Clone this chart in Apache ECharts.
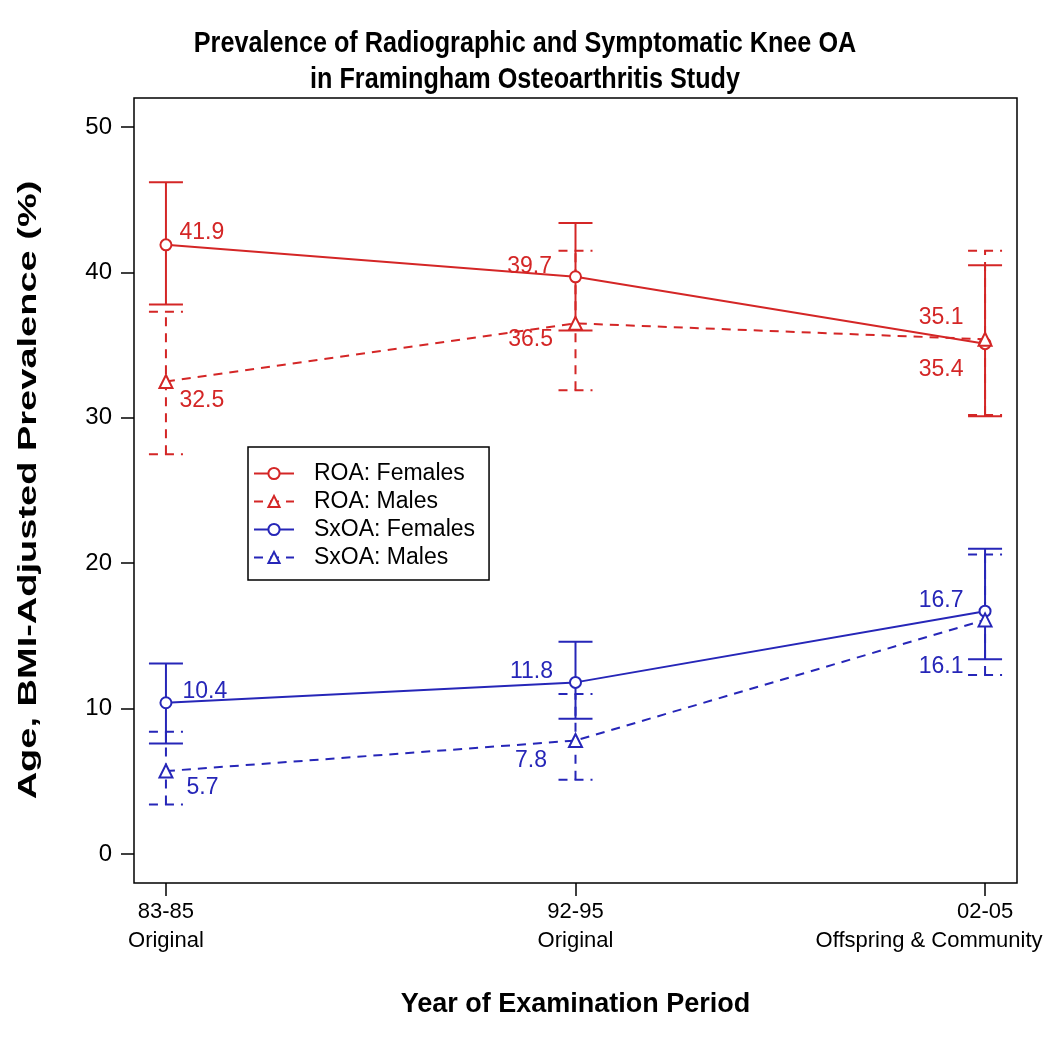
<!DOCTYPE html>
<html>
<head>
<meta charset="utf-8">
<script src="https://cdn.jsdelivr.net/npm/echarts@6/dist/echarts.min.js"></script>
<style>
  html, body { margin: 0; padding: 0; background: #fff; }
  #main { width: 1050px; height: 1050px; }
</style>
</head>
<body>
<div id="main"></div>
<script>
var chartDom = document.getElementById('main');
var myChart = echarts.init(chartDom);
var option;

// x positions 0,1,2 = exam periods
var periodYears = ['83-85', '92-95', '02-05'];
var periodCohorts = ['Original', 'Original', 'Offspring & Community'];
var yTicks = [0, 10, 20, 30, 40, 50];

var roaF = [41.9, 39.7, 35.1];
var roaFLo = [37.8, 36.0, 30.1];
var roaFHi = [46.2, 43.4, 40.5];

var roaM = [32.5, 36.5, 35.4];
var roaMLo = [27.5, 31.9, 30.2];
var roaMHi = [37.3, 41.5, 41.5];

var sxF = [10.4, 11.8, 16.7];
var sxFLo = [7.6, 9.3, 13.4];
var sxFHi = [13.1, 14.6, 21.0];

var sxM = [5.7, 7.8, 16.1];
var sxMLo = [3.4, 5.1, 12.3];
var sxMHi = [8.4, 11.0, 20.6];

var RED = '#d42626';
var BLUE = '#2626b8';
var FONT = 'Liberation Sans';

// label placement per point (side, dx, dy)
var labelPos = {
  roaF: [['right', 2, -12], ['left', -12, -10], ['left', -10, -26]],
  roaM: [['right', 1, 19], ['left', -10, 16], ['left', -9, 30]],
  sxF: [['right', 5, -11], ['left', -11, -11], ['left', -10, -11]],
  sxM: [['right', 8, 17], ['left', -16, 20], ['left', -9, 47]]
};

function pts(vals, key) {
  return vals.map(function (v, i) {
    var p = labelPos[key][i];
    return {
      value: [i, v],
      label: { position: p[0], offset: [p[1], p[2]] }
    };
  });
}

function lineSeries(name, vals, key, color, dashed, symbol) {
  return {
    name: name,
    type: 'line',
    data: pts(vals, key),
    symbol: symbol,
    symbolSize: symbol === 'emptyCircle' ? 11 : 13,
    color: color,
    itemStyle: { color: color, borderWidth: 1.5 },
    lineStyle: { color: color, width: 2, type: dashed ? [9, 7] : 'solid' },
    label: {
      show: true,
      color: color,
      fontFamily: FONT,
      fontSize: 23,
      formatter: function (p) { return p.value[1].toFixed(1); }
    },
    emphasis: { disabled: true },
    z: 3
  };
}

function errSeries(lo, hi, color, dashed) {
  var data = lo.map(function (l, i) { return [i, l, hi[i]]; });
  return {
    type: 'custom',
    data: data,
    silent: true,
    z: 2,
    renderItem: function (params, api) {
      var x = api.value(0);
      var a = api.coord([x, api.value(1)]);
      var b = api.coord([x, api.value(2)]);
      var w = 17;
      var st = { stroke: color, lineWidth: 2, lineDash: dashed ? [9, 7] : null };
      return {
        type: 'group',
        children: [
          { type: 'line', shape: { x1: a[0], y1: a[1], x2: b[0], y2: b[1] }, style: st },
          { type: 'line', shape: { x1: a[0] - w, y1: a[1], x2: a[0] + w, y2: a[1] }, style: st },
          { type: 'line', shape: { x1: b[0] - w, y1: b[1], x2: b[0] + w, y2: b[1] }, style: st }
        ]
      };
    }
  };
}

option = {
  backgroundColor: '#fff',
  animation: false,
  graphic: [{
    // main title, narrow bold like the original
    type: 'text',
    x: 525,
    y: 62,
    scaleX: 0.84,
    style: {
      text: 'Prevalence of Radiographic and Symptomatic Knee OA\nin Framingham Osteoarthritis Study',
      fontFamily: FONT,
      fontWeight: 'bold',
      fontSize: 30,
      lineHeight: 36,
      fill: '#000',
      textAlign: 'center',
      textVerticalAlign: 'middle'
    }
  }, {
    type: 'text',
    x: 29,
    y: 490,
    rotation: Math.PI / 2,
    scaleX: 1.52,
    style: {
      text: 'Age, BMI-Adjusted Prevalence (%)',
      fontFamily: FONT,
      fontWeight: 'bold',
      fontSize: 25,
      fill: '#000',
      textAlign: 'center',
      textVerticalAlign: 'middle'
    }
  }],
  legend: {
    orient: 'vertical',
    left: 248,
    top: 447,
    padding: [15, 14, 11, 5],
    itemGap: 5,
    itemWidth: 40,
    itemHeight: 14,
    borderColor: '#000',
    borderWidth: 1.5,
    textStyle: { fontFamily: FONT, fontSize: 23, color: '#000', padding: [0, 0, 0, 15] },
    data: ['ROA: Females', 'ROA: Males', 'SxOA: Females', 'SxOA: Males']
  },
  grid: {
    left: 134,
    right: 33,
    top: 98,
    bottom: 167,
    outerBoundsMode: 'none',
    show: true,
    borderColor: '#000',
    borderWidth: 1.5,
    backgroundColor: 'transparent'
  },
  xAxis: {
    type: 'value',
    min: -0.078,
    max: 2.078,
    splitLine: { show: false },
    axisLine: { show: false, onZero: false },
    axisTick: { show: true, length: 13, customValues: [0, 1, 2], lineStyle: { color: '#000', width: 1.5 } },
    axisLabel: {
      customValues: [0, 1, 2],
      margin: 14,
      fontFamily: FONT,
      fontSize: 22,
      lineHeight: 29,
      color: '#000',
      formatter: function (v) {
        var i = Math.round(v);
        if (i === 2) {
          return '{y|' + periodYears[i] + '}\n{c|' + periodCohorts[i] + '}';
        }
        return periodYears[i] + '\n' + periodCohorts[i];
      },
      rich: {
        y: { fontFamily: FONT, fontSize: 22, lineHeight: 29, color: '#000' },
        c: { fontFamily: FONT, fontSize: 22, lineHeight: 29, color: '#000', padding: [0, 112, 0, 0] }
      }
    },
    name: 'Year of Examination Period',
    nameLocation: 'middle',
    nameGap: 108,
    nameTextStyle: { fontFamily: FONT, fontWeight: 'bold', fontSize: 27, color: '#000' }
  },
  yAxis: {
    type: 'value',
    min: -2,
    max: 52,
    splitLine: { show: false },
    axisLine: { show: false, onZero: false },
    axisTick: { show: true, length: 13, customValues: yTicks, lineStyle: { color: '#000', width: 1.5 } },
    axisLabel: {
      customValues: yTicks,
      margin: 22,
      fontFamily: FONT,
      fontSize: 24,
      color: '#000'
    }
  },
  series: [
    errSeries(roaFLo, roaFHi, RED, false),
    errSeries(roaMLo, roaMHi, RED, true),
    errSeries(sxFLo, sxFHi, BLUE, false),
    errSeries(sxMLo, sxMHi, BLUE, true),
    lineSeries('ROA: Females', roaF, 'roaF', RED, false, 'emptyCircle'),
    lineSeries('ROA: Males', roaM, 'roaM', RED, true, 'emptyTriangle'),
    lineSeries('SxOA: Females', sxF, 'sxF', BLUE, false, 'emptyCircle'),
    lineSeries('SxOA: Males', sxM, 'sxM', BLUE, true, 'emptyTriangle')
  ]
};

option && myChart.setOption(option);
</script>
</body>
</html>
